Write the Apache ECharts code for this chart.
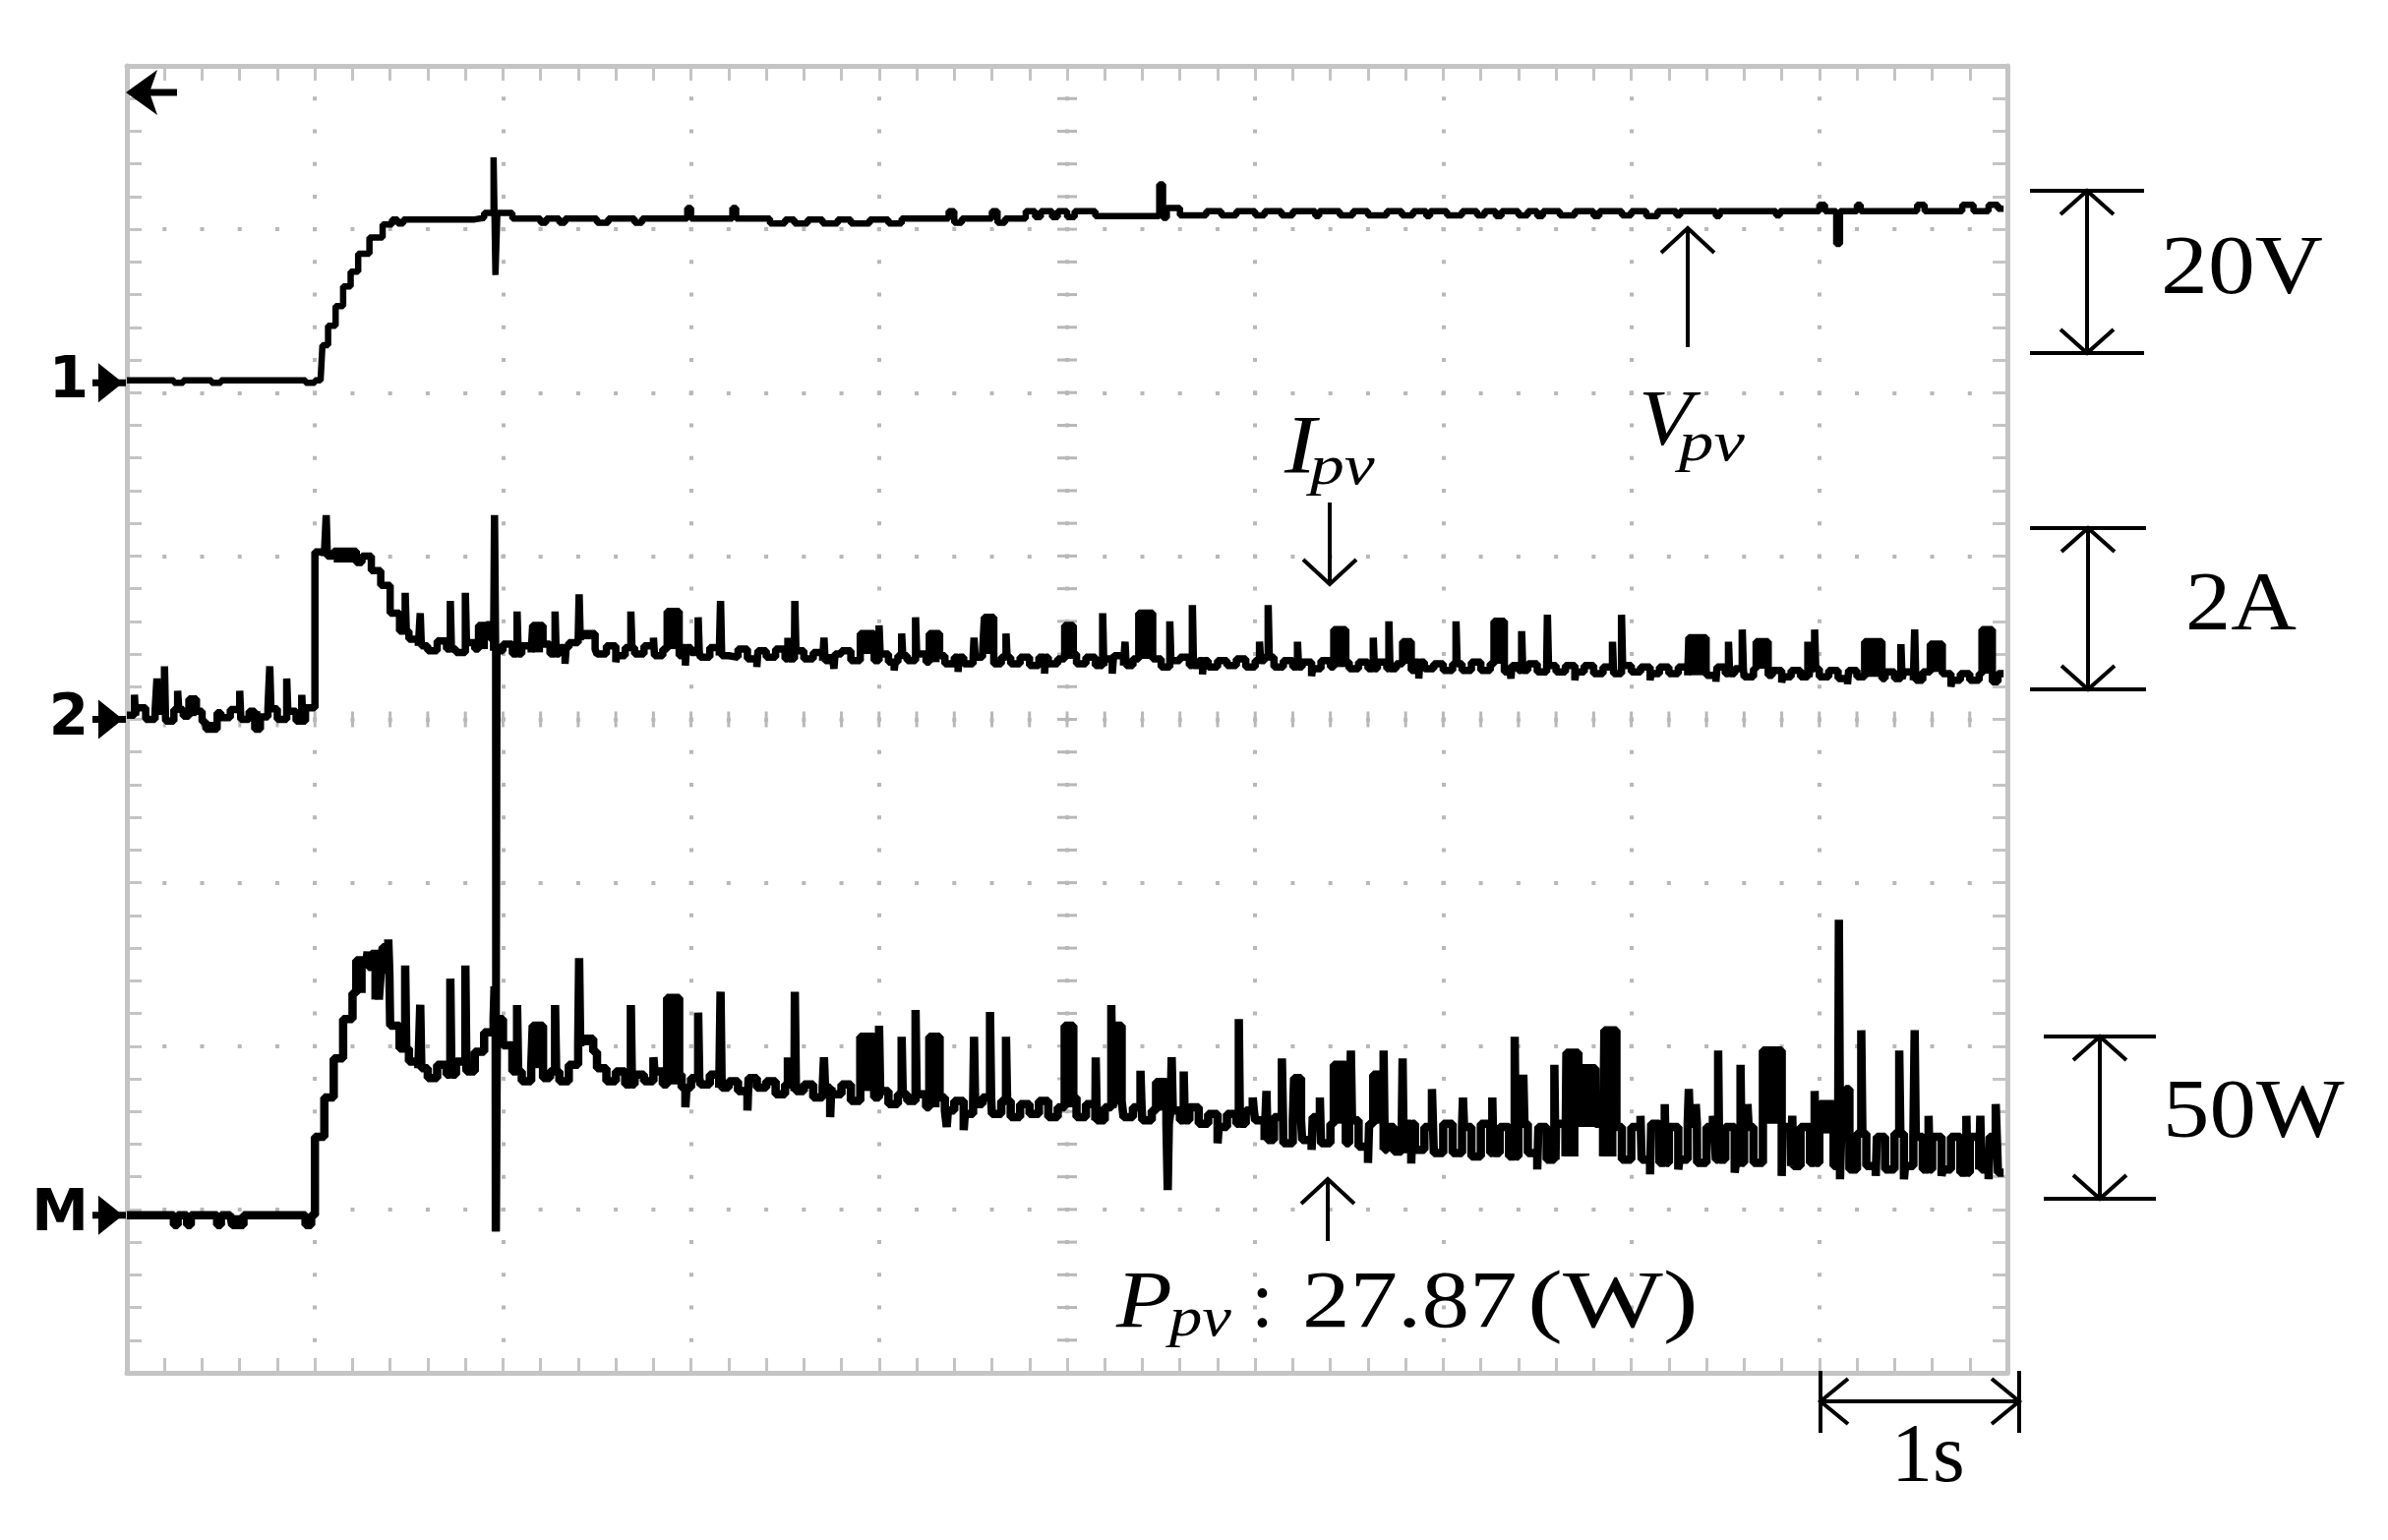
<!DOCTYPE html>
<html>
<head>
<meta charset="utf-8">
<title>PV start-up waveforms</title>
<script src="https://cdn.jsdelivr.net/npm/echarts@6/dist/echarts.min.js"></script>
<style>
html, body { margin: 0; background: #fff; }
#chart { width: 2428px; height: 1566px; }
</style>
</head>
<body>
<div id="chart"></div>
<script>
// channel scales (unit per division) and ground levels (divisions from the bottom)
const V_PER_DIV = 20, A_PER_DIV = 2, W_PER_DIV = 50;
const V_GND = 6.06, A_GND = 4.0, W_GND = 0.965;
const T_END = 9.98;
const DT = 0.05;        // spacing of the base records, s
const SPIKE_W = 0.006;  // width of a single glitch, s

// Vpv (V): [time s, level]
const vpvPoints = [
  [0, 0.3], [0.25, 0], [0.3, 0.3], [0.45, 0], [0.5, 0.3], [0.95, 0], [1.0, 0.3],
  [1.03, 0.4], [1.04, 4.6], [1.07, 7.0], [1.11, 9.4], [1.15, 11.8], [1.19, 13.6], [1.23, 15.8],
  [1.29, 17.8], [1.36, 19.4], [1.41, 20.0], [1.44, 19.5], [1.47, 20.0],
  [1.85, 20.2], [1.9, 20.8], [1.95, 27.6], [1.96, 13.2], [1.97, 20.8], [2.05, 20.1],
  [2.2, 19.6], [2.23, 20.1], [2.3, 19.6], [2.33, 20.1], [2.5, 19.6], [2.56, 20.1], [2.7, 19.6], [2.74, 20.1],
  [2.98, 21.4], [3.0, 20.1], [3.22, 21.4], [3.24, 20.1],
  [3.42, 19.5], [3.5, 20.0], [3.55, 19.5], [3.62, 20.0], [3.7, 19.5], [3.78, 20.0], [3.85, 19.5], [3.95, 20.0],
  [4.05, 19.5], [4.12, 20.1], [4.37, 21.0], [4.4, 19.6], [4.44, 20.1], [4.6, 21.0], [4.63, 19.6], [4.67, 20.1],
  [4.78, 21.0], [4.83, 20.3], [4.86, 21.0], [4.92, 20.3], [4.95, 21.0], [5.0, 20.3], [5.04, 21.0], [5.15, 20.4],
  [5.49, 24.3], [5.51, 20.2], [5.53, 21.4], [5.6, 20.5], [5.74, 21.0], [5.82, 20.5], [5.9, 21.0], [6.0, 20.5],
  [6.05, 21.0], [6.14, 20.5], [6.2, 21.0], [6.32, 20.4], [6.34, 21.0], [6.45, 20.5], [6.52, 21.0], [6.6, 20.5],
  [6.7, 21.0], [6.78, 20.5], [6.84, 21.0], [6.91, 20.4], [6.93, 21.0], [7.02, 20.5], [7.1, 21.0], [7.18, 20.5],
  [7.22, 21.0], [7.28, 20.4], [7.31, 21.0], [7.4, 20.5], [7.45, 21.0], [7.5, 20.4], [7.53, 21.0], [7.62, 20.5],
  [7.7, 21.0], [7.8, 20.4], [7.83, 21.0], [7.95, 20.5], [8.0, 21.0],
  [8.08, 20.4], [8.14, 21.0], [8.24, 20.5], [8.26, 21.0], [8.45, 20.4], [8.47, 21.0], [8.77, 20.5], [8.79, 21.0],
  [9.0, 21.8], [9.03, 21.0], [9.09, 17.0], [9.11, 21.0], [9.2, 21.8], [9.22, 21.0], [9.52, 21.8], [9.56, 21.0],
  [9.76, 21.8], [9.82, 21.0], [9.9, 21.8], [9.95, 21.3], [9.98, 21.3]
];

// Ipv (A): one value every DT from t = 0
const ipvBase = [
  0.05,0.14,0.0,0.1,-0.02,0.12,0.04,0.1,-0.03,0.08,0.02,0.12,0.0,0.1,0.03,0.13,0.0,0.1,-0.02,0.14,
  2.05,2.0,1.92,1.96,1.92,2.0,1.82,1.64,1.3,1.08,0.98,0.9,0.84,0.96,0.86,0.82,0.94,0.86,0.98,0.84,
  0.92,0.8,0.9,0.82,0.92,0.8,0.88,0.94,0.98,0.86,0.8,0.9,0.78,0.88,0.8,0.9,0.78,0.86,0.78,0.88,
  0.82,0.76,0.88,0.78,0.76,0.86,0.74,0.84,0.76,0.86,0.74,0.84,0.74,0.82,0.72,0.8,0.84,0.72,0.8,0.72,
  0.8,0.7,0.78,0.72,0.8,0.7,0.78,0.68,0.76,0.68,0.76,0.8,0.68,0.76,0.68,0.76,0.66,0.76,0.68,0.74,
  0.8,0.68,0.76,0.66,0.74,0.78,0.66,0.74,0.66,0.74,0.64,0.72,0.76,0.66,0.72,0.64,0.72,0.66,0.74,0.64,
  0.72,0.76,0.64,0.72,0.64,0.7,0.62,0.72,0.64,0.7,0.62,0.7,0.62,0.7,0.62,0.68,0.6,0.7,0.62,0.68,
  0.6,0.68,0.6,0.7,0.6,0.68,0.58,0.66,0.6,0.68,0.58,0.66,0.58,0.66,0.58,0.66,0.56,0.64,0.56,0.66,
  0.58,0.64,0.56,0.64,0.56,0.64,0.54,0.62,0.54,0.64,0.56,0.62,0.52,0.62,0.54,0.6,0.52,0.6,0.52,0.62,
  0.52,0.6,0.5,0.6,0.52,0.58,0.5,0.58,0.5,0.58,0.48,0.58,0.5,0.56,0.48,0.56,0.48,0.56,0.46,0.56
];
// Ipv glitches: [time s, peak A, width s]; entries with a width are dense bursts
const ipvSpikes = [
  [0.04, 0.3], [0.16, 0.5], [0.2, 0.65], [0.27, 0.35], [0.33, 0.25, 0.04], [0.42, -0.12, 0.06], [0.6, 0.35],
  [0.68, -0.12, 0.03], [0.76, 0.65], [0.85, 0.5], [0.93, 0.3],
  [1.06, 2.5], [1.1, 2.06, 0.12], [1.48, 1.55], [1.56, 1.3], [1.72, 1.45], [1.8, 1.55], [1.87, 1.15, 0.05], [1.93, 1.2],
  [1.955, 2.5], [1.962, -6.27],
  [2.075, 1.32], [2.158, 1.15, 0.055], [2.277, 1.32], [2.33, 0.68], [2.405, 1.53], [2.42, 1.05, 0.07],
  [2.6, 0.7], [2.68, 1.32], [2.8, 1.0], [2.873, 1.32, 0.064], [2.97, 0.66],
  [3.038, 1.25], [3.157, 1.45], [3.35, 0.64], [3.515, 1.0], [3.552, 1.45], [3.707, 1.0], [3.76, 0.62],
  [3.9, 1.05, 0.074], [4.0, 1.15], [4.08, 0.6], [4.12, 1.05], [4.194, 1.25], [4.267, 1.05, 0.055],
  [4.42, 0.58], [4.505, 1.0],
  [4.56, 1.25, 0.05], [4.675, 1.05], [4.88, 0.56], [4.987, 1.15, 0.046], [5.189, 1.3], [5.24, 0.56],
  [5.308, 0.95], [5.381, 1.3, 0.074], [5.546, 1.2], [5.666, 1.4], [5.72, 0.55], [6.023, 0.95], [6.069, 1.4],
  [6.225, 0.95], [6.3, 0.53], [6.418, 1.1, 0.064], [6.628, 1.0], [6.711, 1.2], [6.784, 0.95, 0.046],
  [6.87, 0.5], [7.068, 1.2], [7.27, 1.2, 0.055], [7.36, 0.5], [7.417, 1.08],
  [7.554, 1.28], [7.7, 0.48], [7.9, 0.95], [7.948, 1.28], [8.1, 0.48], [8.306, 1.0, 0.092], [8.45, 0.46],
  [8.517, 0.95], [8.59, 1.1], [8.664, 0.95, 0.064], [8.8, 0.45], [8.939, 0.95], [8.975, 1.1], [9.15, 0.43],
  [9.241, 0.95, 0.092], [9.434, 0.92], [9.507, 1.1], [9.59, 0.92, 0.064], [9.7, 0.4], [9.865, 1.1, 0.055]
];

// Ppv (W): one value every DT from t = 0
const ppvBase = [
  0,0,0,0,0,0,0,0,0,0,0,0,0,0,0,0,0,0,0,0,
  24,36,48,60,68,76,66,74,58,51,47,45,42,46,43,47,44,50,56,60,
  52,44,41,45,42,44,41,46,52,50,45,41,44,40,43,41,44,40,43,39,
  42,40,43,39,41,38,42,39,41,37,40,38,40,36,39,37,40,35,38,36,
  38,34,37,35,37,33,36,32,35,31,34,36,31,35,30,34,31,35,30,33,
  36,30,34,29,33,35,30,33,29,32,28,32,29,33,28,31,27,31,28,32,
  29,23,30,22,29,23,30,22,28,22,29,21,28,20,27,19,28,20,27,19,
  28,19,27,18,28,19,27,18,28,19,27,17,28,18,27,17,28,18,27,17,
  27,17,28,16,27,17,28,16,27,17,27,16,27,16,28,17,27,15,27,16,
  25,15,24,14,25,15,24,14,25,15,24,14,24,14,24,13,24,14,24,13
];
// Ppv glitches: [time s, peak W, width s]; entries with a width are dense bursts
const ppvSpikes = [
  [0.25, -3, 0.02], [0.32, -3, 0.02], [0.48, -3, 0.02], [0.56, -3, 0.06], [0.95, -3, 0.03],
  [1.22, 78, 0.05], [1.28, 80.6], [1.3, 80, 0.04], [1.36, 82, 0.03], [1.39, 84.4], [1.48, 76.4], [1.56, 64.4],
  [1.72, 72.4], [1.8, 76.4], [1.955, 70], [1.962, -5],
  [2.075, 64.3], [2.158, 58, 0.055], [2.277, 64.3], [2.405, 78.7], [2.42, 54, 0.06], [2.68, 64.3], [2.8, 48.3],
  [2.873, 66.5, 0.064], [2.97, 33],
  [3.038, 62], [3.157, 68.4], [3.3, 32], [3.515, 48.3], [3.552, 68.4], [3.707, 48.3], [3.74, 30],
  [3.9, 54.6, 0.074], [4.0, 58], [4.12, 54.6], [4.194, 62.8], [4.267, 54.6, 0.055], [4.36, 27], [4.45, 26],
  [4.505, 54.6],
  [4.59, 62.2], [4.675, 54.6], [4.987, 58, 0.046], [5.152, 48.3], [5.235, 64.3], [5.253, 58, 0.037],
  [5.39, 44.2], [5.473, 40.8, 0.055], [5.535, 7.7], [5.556, 48.3], [5.62, 44], [5.8, 22], [5.913, 60],
  [5.987, 36], [6.06, 38], [6.142, 48], [6.207, 42, 0.037], [6.3, 20], [6.344, 36], [6.418, 46, 0.064],
  [6.509, 50.4], [6.6, 16], [6.628, 43, 0.055], [6.683, 50.4], [6.738, 19.5, 0.04], [6.784, 48], [6.83, 15.8],
  [6.94, 38.6], [7.105, 36], [7.261, 36], [7.38, 54.6], [7.426, 43],
  [7.5, 14], [7.591, 46], [7.655, 49.7, 0.064], [7.719, 45, 0.09], [7.857, 56.6, 0.064], [8.049, 30.4],
  [8.1, 12.5], [8.178, 34], [8.25, 14], [8.306, 38.6], [8.343, 34], [8.434, 30.4], [8.462, 50.4], [8.55, 13],
  [8.581, 46], [8.618, 34], [8.7, 50.4, 0.1], [8.8, 12], [8.856, 30.4], [8.975, 38], [9.003, 34, 0.073],
  [9.104, 90.4], [9.11, 11], [9.14, 38.6, 0.02], [9.223, 56.6], [9.3, 12], [9.425, 50.4], [9.45, 11],
  [9.507, 56.6], [9.581, 30.4], [9.65, 12], [9.782, 30.4], [9.856, 30.4], [9.9, 11], [9.938, 34]
];

// screen layout
const GRID = { left: 129, top: 67, width: 1912, height: 1329 };
const DIV_W = GRID.width / 10, DIV_H = GRID.height / 8;
const BORDER = '#c4c4c4', DOT = '#b8b8b8', INK = '#000';

const levelIn = (base, t) => base[Math.min(base.length - 1, Math.floor(t / DT + 1e-6))];

// base record + glitches -> sample-and-hold points in divisions
function buildTrace(base, spikes, perDiv, gnd) {
  const covered = t => spikes.some(s => t >= s[0] - 1e-9 && t < s[0] + (s[2] || SPIKE_W) - 1e-9);
  const pts = [];
  base.forEach((v, i) => {
    const t = +(i * DT).toFixed(3);
    if (!covered(t)) pts.push([t, v]);
  });
  spikes.forEach(s => {
    const end = +(s[0] + (s[2] || SPIKE_W)).toFixed(4);
    pts.push([s[0], s[1]], [end, levelIn(base, end)]);
  });
  pts.sort((a, b) => a[0] - b[0]);
  pts.push([T_END, base[base.length - 1]]);
  return pts.map(p => [p[0], p[1] / perDiv + gnd]);
}
// dense bursts are drawn solid: [start, peak, width, level before]
function buildBursts(base, spikes, perDiv, gnd) {
  return spikes.filter(s => s[2]).map(s => [s[0], s[1] / perDiv + gnd, s[2], levelIn(base, s[0]) / perDiv + gnd]);
}

const divY = d => GRID.top + (8 - d) * DIV_H;

function seg(x1, y1, x2, y2, w) {
  return { type: 'line', z: 20, silent: true, shape: { x1, y1, x2, y2 },
    style: { stroke: INK, lineWidth: w || 4 } };
}
function head(x, y, dx, dy) {   // open arrow head with its tip at (x, y)
  return { type: 'polyline', z: 20, silent: true,
    shape: { points: dx === 0 ? [[x - 27, y + dy], [x, y], [x + 27, y + dy]] : [[x + dx, y - 23], [x, y], [x + dx, y + 23]] },
    style: { stroke: INK, lineWidth: 4, fill: null, lineJoin: 'miter' } };
}
function txt(text, x, baseline, size, opts) {
  opts = opts || {};
  const y = baseline - (opts.middle ? 0 : 0.3375 * size);
  return { type: 'text', z: 20, silent: true, x, y, scaleX: opts.sx || 1,
    style: { text, fontSize: size, fontFamily: opts.family || 'Liberation Serif',
      fontStyle: opts.italic ? 'italic' : 'normal', fontWeight: opts.bold ? 'bold' : 'normal',
      fill: INK, align: opts.align || 'left', verticalAlign: 'middle',
      textAlign: opts.align || 'left', textVerticalAlign: 'middle' } };
}
function scaleBar(x, yTop, yBot, half) {
  return [seg(x - half, yTop, x + half, yTop), seg(x - half, yBot, x + half, yBot),
    seg(x, yTop, x, yBot), head(x, yTop, 0, 24), head(x, yBot, 0, -24)];
}
function chanMark(label, d) {
  const y = divY(d);
  return [txt(label, 90, y, 58, { bold: true, family: 'DejaVu Sans', align: 'right', middle: true }),
    seg(94, y, 128, y, 7),
    { type: 'polygon', z: 20, silent: true, shape: { points: [[100, y - 20], [100, y + 20], [125, y]] }, style: { fill: INK } }];
}

const graphics = [];
// centre cross of the graticule
for (let k = 1; k < 50; k++) {
  graphics.push({ type: 'rect', z: 1, silent: true,
    shape: { x: GRID.left + k * DIV_W / 5 - 1.5, y: divY(4) - 8, width: 3, height: 16 }, style: { fill: DOT } });
}
for (let k = 1; k < 40; k++) {
  graphics.push({ type: 'rect', z: 1, silent: true,
    shape: { x: GRID.left + 5 * DIV_W - 10, y: GRID.top + k * DIV_H / 5 - 1.5, width: 20, height: 3 }, style: { fill: DOT } });
}
// trigger position marker
graphics.push({ type: 'polygon', z: 20, silent: true,
  shape: { points: [[128, 94], [160, 71], [152, 94], [160, 117]] }, style: { fill: INK } });
graphics.push(seg(150, 94, 180, 94, 7));
// channel ground markers
graphics.push(...chanMark('1', V_GND), ...chanMark('2', A_GND), ...chanMark('M', W_GND));
// scale bars
graphics.push(...scaleBar(2122, 194, 359, 58), txt('20V', 2197, 304, 84, { sx: 1.14 }));
graphics.push(...scaleBar(2123, 537, 701, 59), txt('2A', 2222, 646, 84, { sx: 1.1 }));
graphics.push(...scaleBar(2135, 1054, 1219, 57), txt('50W', 2199, 1162, 84, { sx: 1.13 }));
graphics.push(seg(1851, 1394, 1851, 1457), seg(2053, 1394, 2053, 1457), seg(1851, 1425, 2053, 1425),
  head(1851, 1425, 28, 0), head(2053, 1425, -28, 0), txt('1s', 1923, 1512, 84));
// trace labels
graphics.push(seg(1716, 232, 1716, 353), head(1716, 232, 0, 25));
graphics.push(txt('V', 1666, 458, 80, { italic: true, sx: 1.12 }), txt('pv', 1707, 472, 58, { italic: true, sx: 1.22 }));
graphics.push(seg(1352, 511, 1352, 594), head(1352, 594, 0, -25));
graphics.push(txt('I', 1306, 487, 84, { italic: true, sx: 1.15 }), txt('pv', 1332, 496, 58, { italic: true, sx: 1.2 }));
graphics.push(seg(1350, 1199, 1350, 1262), head(1350, 1199, 0, 25));
graphics.push(txt('P', 1135, 1355, 83, { italic: true, sx: 1.12 }), txt('pv', 1189, 1362, 58, { italic: true, sx: 1.15 }),
  txt(':', 1272, 1355, 83), txt('27.87', 1324, 1355, 83, { sx: 1.17 }), txt('(W)', 1553, 1355, 83, { sx: 1.3 }));

const edgeAxis = {
  axisLine: { show: true, onZero: false, lineStyle: { color: BORDER, width: 5 } },
  axisTick: { show: true, inside: true, length: 15, lineStyle: { color: BORDER, width: 3 } },
  minorTick: { show: true, splitNumber: 5, length: 15, lineStyle: { color: BORDER, width: 3 } },
  axisLabel: { show: false }
};

function traceSeries(name, data, width) {
  return { name, type: 'line', step: 'end', showSymbol: false, symbol: 'none', z: 5,
    data, lineStyle: { color: INK, width } };
}
function burstSeries(name, data) {
  return { name, type: 'custom', z: 5, silent: true, encode: { x: 0, y: 1 }, data,
    renderItem: (params, api) => {
      const a = api.coord([api.value(0), api.value(1)]);
      const b = api.coord([api.value(0) + api.value(2), api.value(3)]);
      return { type: 'rect', shape: { x: a[0], y: Math.min(a[1], b[1]), width: b[0] - a[0], height: Math.abs(b[1] - a[1]) },
        style: { fill: INK } };
    } };
}

const chart = echarts.init(document.getElementById('chart'));
chart.setOption({
  backgroundColor: '#fff',
  animation: false,
  grid: Object.assign({ outerBoundsMode: 'none', containLabel: false }, GRID),
  xAxis: [
    Object.assign({ type: 'value', min: 0, max: 10, interval: 1, position: 'bottom',
      splitLine: { show: true, lineStyle: { color: DOT, width: 4, type: [4, DIV_H / 5 - 4], dashOffset: 2 } } }, edgeAxis),
    Object.assign({ type: 'value', min: 0, max: 10, interval: 1, position: 'top', splitLine: { show: false } }, edgeAxis)
  ],
  yAxis: [
    Object.assign({ type: 'value', min: 0, max: 8, interval: 1, position: 'left',
      splitLine: { show: true, lineStyle: { color: DOT, width: 4, type: [4, DIV_W / 5 - 4], dashOffset: 2 } } }, edgeAxis),
    Object.assign({ type: 'value', min: 0, max: 8, interval: 1, position: 'right', splitLine: { show: false } }, edgeAxis)
  ],
  series: [
    traceSeries('Vpv', vpvPoints.map(p => [p[0], p[1] / V_PER_DIV + V_GND]), 6.5),
    traceSeries('Ipv', buildTrace(ipvBase, ipvSpikes, A_PER_DIV, A_GND), 7.5),
    traceSeries('Ppv', buildTrace(ppvBase, ppvSpikes, W_PER_DIV, W_GND), 8.5),
    burstSeries('Ipv bursts', buildBursts(ipvBase, ipvSpikes, A_PER_DIV, A_GND)),
    burstSeries('Ppv bursts', buildBursts(ppvBase, ppvSpikes, W_PER_DIV, W_GND))
  ],
  graphic: graphics
});
</script>
</body>
</html>
